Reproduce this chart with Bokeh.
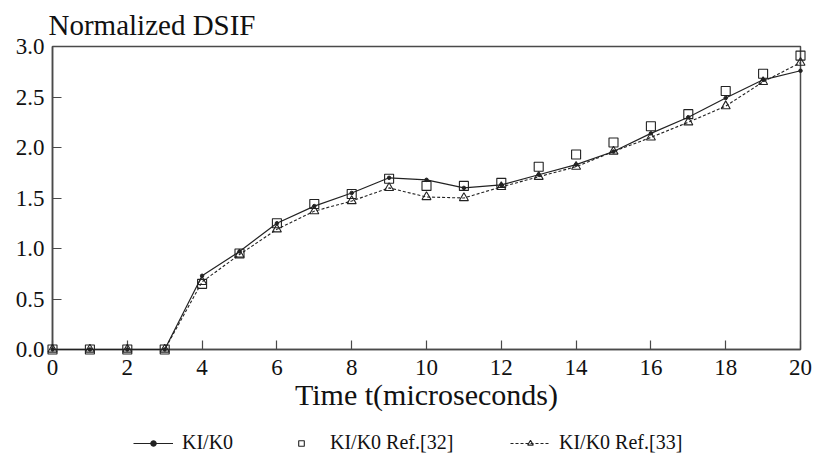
from bokeh.plotting import figure
from bokeh.layouts import column
from bokeh.models import Legend, LegendItem, FixedTicker, NumeralTickFormatter, Range1d
from bokeh.embed import file_html
from bokeh.resources import INLINE

t = list(range(0, 21))
ki_k0 = [0, 0, 0, 0, 0.73, 0.97, 1.25, 1.42, 1.55, 1.70, 1.68, 1.60, 1.63, 1.73, 1.83,
         1.96, 2.14, 2.30, 2.49, 2.67, 2.76]
ki_k0_ref32 = [0, 0, 0, 0, 0.65, 0.95, 1.25, 1.44, 1.54, 1.69, 1.62, 1.62, 1.65, 1.81, 1.93,
               2.05, 2.21, 2.33, 2.56, 2.73, 2.91]
ki_k0_ref33 = [0, 0, 0, 0, 0.67, 0.94, 1.19, 1.37, 1.47, 1.60, 1.51, 1.50, 1.61, 1.71, 1.81,
               1.96, 2.10, 2.25, 2.41, 2.65, 2.84]
x_ticks = list(range(0, 21, 2))
y_ticks = [0.0, 0.5, 1.0, 1.5, 2.0, 2.5, 3.0]
labels = ["KI/K0", "KI/K0 Ref.[32]", "KI/K0 Ref.[33]"]

FONT = "'Liberation Serif', 'Times New Roman', serif"
INK = "#222222"
AX = "#4a4a4a"
TXT = "#111111"

MAIN_H = 418
p = figure(width=817, height=MAIN_H, output_backend="svg", toolbar_location=None,
           x_range=Range1d(0, 20), y_range=Range1d(0, 3.0),
           min_border_left=52, min_border_right=17, min_border_top=46,
           min_border_bottom=MAIN_H - 349, title="Normalized DSIF")
p.title.text_font = FONT
p.title.text_font_size = "29px"
p.title.text_font_style = "normal"
p.title.text_color = TXT
p.title.align = "left"
p.title.offset = -4
p.title.standoff = 12

p.grid.visible = False
p.outline_line_color = AX
p.outline_line_width = 1.5
p.background_fill_color = "white"
p.border_fill_color = "white"

for ax in (p.xaxis[0], p.yaxis[0]):
    ax.axis_line_color = AX
    ax.axis_line_width = 1.5
    ax.major_tick_line_color = AX
    ax.major_tick_line_width = 1.2
    ax.major_tick_in = 9
    ax.major_tick_out = 0
    ax.minor_tick_line_color = None
    ax.major_label_text_font = FONT
    ax.major_label_text_font_size = "23px"
    ax.major_label_text_color = TXT

p.xaxis.ticker = FixedTicker(ticks=x_ticks)
p.yaxis.ticker = FixedTicker(ticks=y_ticks)
p.yaxis.formatter = NumeralTickFormatter(format="0.0")
p.xaxis.major_label_standoff = 10
p.yaxis.major_label_standoff = 8
p.xaxis.axis_label = "Time t(microseconds)"
p.xaxis.axis_label_text_font = FONT
p.xaxis.axis_label_text_font_size = "30px"
p.xaxis.axis_label_text_font_style = "normal"
p.xaxis.axis_label_text_color = TXT
p.xaxis.axis_label_standoff = 0

p.line(t, ki_k0, line_color=INK, line_width=1.2, level="overlay")
p.scatter(t, ki_k0, marker="circle", size=3.5, fill_color=INK, line_color=INK, level="overlay")
p.scatter(t, ki_k0_ref32, marker="square", size=9, fill_color=None, line_color=INK,
          line_width=1.1, level="overlay")
p.line(t, ki_k0_ref33, line_color=INK, line_width=1.1, line_dash="3 2", level="overlay")
p.scatter(t, ki_k0_ref33, marker="triangle", size=9, fill_color=None, line_color=INK,
          line_width=1.1, level="overlay")

# legend strip below the chart (its series sit outside its own empty view)
LEG_H = 459 - MAIN_H
q = figure(width=817, height=LEG_H, output_backend="svg", toolbar_location=None,
           x_range=Range1d(-50, -40), y_range=Range1d(-50, -40),
           x_axis_location=None, y_axis_location=None,
           min_border=0, min_border_left=0, min_border_right=0, min_border_top=0,
           min_border_bottom=0)
q.grid.visible = False
q.outline_line_color = None
q.background_fill_color = "white"
q.border_fill_color = "white"

g1a = q.line(t, ki_k0, line_color=INK, line_width=1.2)
g1b = q.scatter(t, ki_k0, marker="circle", size=3.5, fill_color=INK, line_color=INK)
g2 = q.scatter(t, ki_k0_ref32, marker="square", size=7, fill_color=None, line_color=INK,
               line_width=1.1)
g3a = q.line(t, ki_k0_ref33, line_color=INK, line_width=1.1, line_dash="3 2")
g3b = q.scatter(t, ki_k0_ref33, marker="triangle", size=8, fill_color=None, line_color=INK,
                line_width=1.1)

rends = [[g1a, g1b], [g2], [g3a, g3b]]
xs = [81, 229, 458]
for lab, r, xo in zip(labels, rends, xs):
    lg = Legend(items=[LegendItem(label=lab, renderers=r)], location=(xo, 5),
                orientation="horizontal", border_line_color=None, background_fill_alpha=0,
                padding=0, margin=0, glyph_width=40, glyph_height=14, label_height=14,
                label_standoff=9, label_text_font=FONT, label_text_font_size="20px",
                label_text_color=TXT)
    q.add_layout(lg, "center")

layout = column(p, q, spacing=0)
open("out.html", "w").write(file_html(layout, INLINE))
